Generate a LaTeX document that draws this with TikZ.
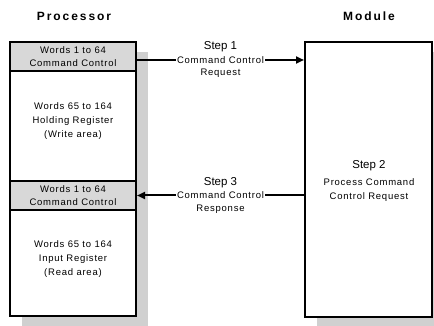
\documentclass[tikz,border=0pt]{standalone}
\usepackage{fontspec}
\setmainfont{Liberation Sans}
\newfontfamily\headfont[LetterSpace=16]{Liberation Sans}
\newfontfamily\bodyfont[LetterSpace=8]{Liberation Sans}
\usetikzlibrary{positioning,shadows,arrows.meta,calc}
\definecolor{hdrgray}{RGB}{216,216,216}
\definecolor{shadowgray}{RGB}{208,208,208}

\begin{document}
\begin{tikzpicture}[x=1pt, y=-1pt,
    title/.style={font=\headfont\fontsize{12}{12}\selectfont\bfseries},
    memblock/.style={draw, line width=2pt, minimum width=126pt, minimum height=274pt, inner sep=0pt,
        fill=white, drop shadow={shadow xshift=12pt, shadow yshift=-10pt, fill=shadowgray, opacity=1}},
    cmdblock/.style={draw, line width=2pt, fill=hdrgray, minimum width=126pt, minimum height=29pt,
        align=center, inner sep=0pt, font=\bodyfont\fontsize{9.5}{13}\selectfont},
    areatext/.style={align=center, font=\bodyfont\fontsize{9.5}{14}\selectfont},
    msgtext/.style={fill=white, inner sep=1.5pt, font=\bodyfont\fontsize{9.5}{12}\selectfont},
    steptext/.style={font=\fontsize{11.5}{12}\selectfont, inner sep=0pt},
    flow/.style={line width=2pt, -{Triangle[length=8pt,width=7pt]}}
]
\useasboundingbox (0,0) rectangle (434,326);

\node[title] (proctitle) at (74,16) {Processor};
\node[title] (modtitle) at (369,16) {Module};

% Processor memory
\node[memblock] (proc) at (73,179) {};
\node[cmdblock, anchor=north] (cmdA) at (proc.north) {Words 1 to 64\\Command Control};
\node[cmdblock] (cmdB) at (73,195.5) {Words 1 to 64\\Command Control};
\node[areatext] (hold) at (73,121) {Words 65 to 164\\Holding Register\\(Write area)};
\node[areatext] (input) at (73,259) {Words 65 to 164\\Input Register\\(Read area)};

% Module
\node[memblock, minimum width=127pt, minimum height=275pt] (mod) at (368.5,179.5) {};
\node[areatext] (proccmd) at (369,190) {Process Command\\Control Request};
\node[steptext, above=4pt of proccmd] (step2) {Step 2};

% Messages
\coordinate (reqA) at ($(cmdA.east)+(0,3.5)$);
\draw[flow] (reqA) -- (reqA -| mod.west)
    node[msgtext, midway, label={[steptext, yshift=1pt]above:Step 1}, label={[msgtext, fill=none, inner sep=0pt, yshift=-2pt]below:Request}] (req) {Command Control};
\draw[flow] (cmdB.east -| mod.west) -- (cmdB.east)
    node[msgtext, midway, label={[steptext, yshift=1pt]above:Step 3}, label={[msgtext, fill=none, inner sep=0pt, yshift=-2pt]below:Response}] (resp) {Command Control};
\end{tikzpicture}
\end{document}
